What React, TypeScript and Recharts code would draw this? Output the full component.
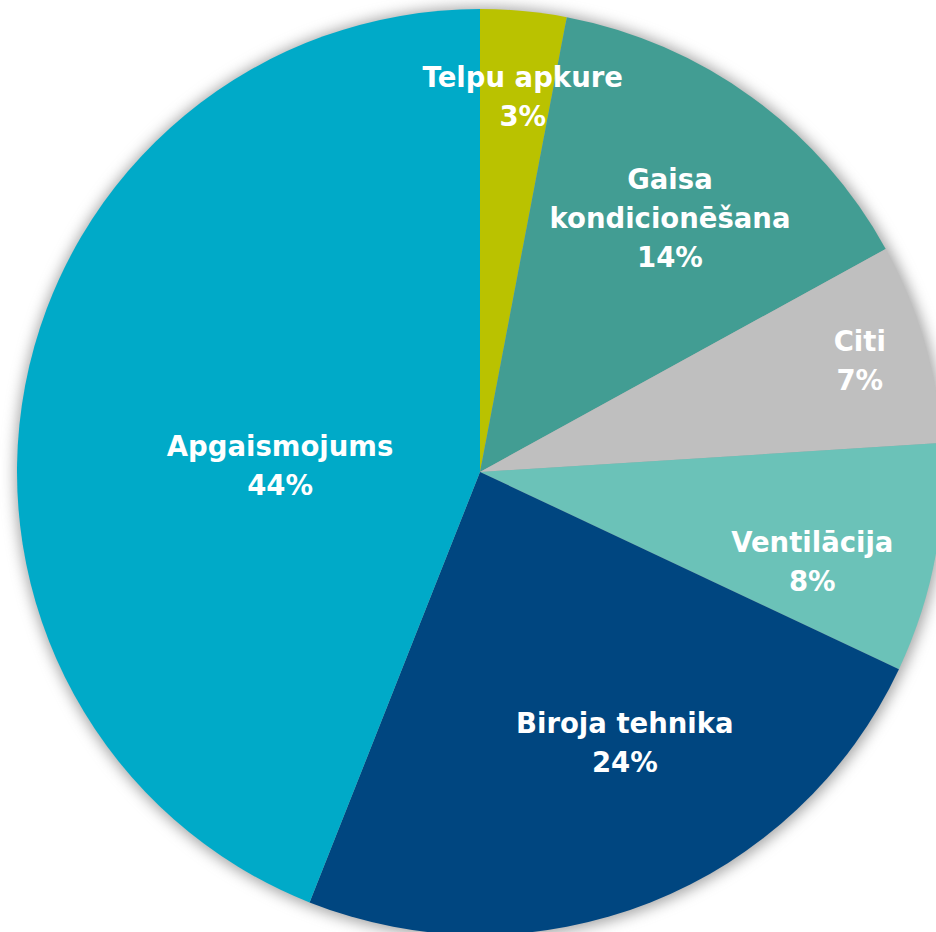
import React from "react";
import { PieChart, Pie, Cell } from "recharts";

const categories = [
  "Telpu apkure",
  "Gaisa kondicionēšana",
  "Citi",
  "Ventilācija",
  "Biroja tehnika",
  "Apgaismojums",
];
const shares = [3, 14, 7, 8, 24, 44];
const colors = ["#BAC200", "#429D93", "#BFBFBF", "#6BC2B8", "#004680", "#00AAC8"];

// label placement: radius fraction and clockwise angle shift (deg)
const labelRadius = [0.816, 0.685, 0.855, 0.743, 0.662, 0.432];
const labelShift = [1.1, 0.8, -0.2, 4.2, -6.6, -8.8];
const wrappedNames = new Set(["Gaisa kondicionēšana"]);

const data = categories.map((name, i) => ({ name, value: shares[i] }));
const shadowData = [{ name: "shadow", value: 1 }];

const RAD = Math.PI / 180;
const FONT = "'DejaVu Sans', sans-serif";

const renderLabel = (props: any) => {
  const { cx, cy, midAngle, outerRadius, index, name, value } = props;
  const r = outerRadius * labelRadius[index];
  const ang = midAngle - labelShift[index];
  const x = cx + r * Math.cos(-ang * RAD);
  const y = cy + r * Math.sin(-ang * RAD);
  const lines: string[] = wrappedNames.has(name) ? name.split(" ") : [name];
  lines.push(`${value}%`);
  const lh = 39;
  const y0 = y - ((lines.length - 1) * lh) / 2;
  return (
    <text
      x={x}
      y={y0}
      fill="#FFFFFF"
      textAnchor="middle"
      dominantBaseline="central"
      style={{ fontFamily: FONT, fontWeight: 700, fontSize: 27.5 }}
    >
      {lines.map((l, k) => (
        <tspan key={k} x={x} y={y0 + k * lh}>
          {l}
        </tspan>
      ))}
    </text>
  );
};

export default function App() {
  return (
    <div style={{ position: "absolute", left: 0, top: 0, width: 936, height: 932, background: "#fff", overflow: "hidden" }}>
      <PieChart width={936} height={932} margin={{ top: 0, right: 0, bottom: 0, left: 0 }}>
        <Pie
          data={shadowData}
          dataKey="value"
          cx={481}
          cy={473}
          outerRadius={466}
          startAngle={90}
          endAngle={-270}
          stroke="none"
          isAnimationActive={false}
          label={false}
        >
          <Cell fill="#6a6a6a" fillOpacity={0.6} style={{ filter: "blur(7px)" }} />
        </Pie>
        <Pie
          data={data}
          dataKey="value"
          nameKey="name"
          cx={480}
          cy={472}
          outerRadius={463}
          startAngle={90}
          endAngle={-270}
          stroke="none"
          isAnimationActive={false}
          labelLine={false}
          label={renderLabel}
        >
          {data.map((d, i) => (
            <Cell key={d.name} fill={colors[i]} />
          ))}
        </Pie>
      </PieChart>
    </div>
  );
}
